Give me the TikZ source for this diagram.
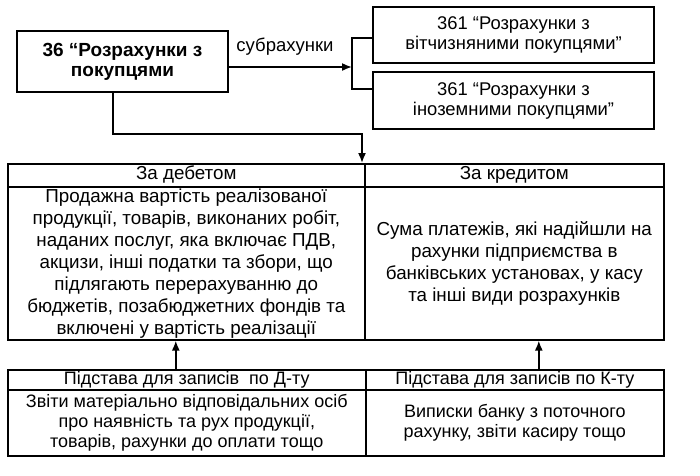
\documentclass[tikz,border=0pt]{standalone}
\usepackage{fontspec}
\setmainfont{Liberation Sans}
\usetikzlibrary{arrows.meta,positioning,calc}
\begin{document}
\begin{tikzpicture}[x=1pt,y=-1pt,
  line width=1.6pt,
  box/.style={draw, rectangle, inner sep=0pt, align=center},
  cell/.style={draw, rectangle, inner sep=0pt, anchor=north west, align=center},
  head/.style={cell, text height=13.5pt, text depth=4.5pt},
  arr/.style={-{Latex[length=10pt,width=8pt]}},
  tf/.style={font=\fontsize{18.8}{22}\selectfont},
  bf/.style={font=\fontsize{18}{20}\selectfont},
]
\useasboundingbox (0,0) rectangle (700,475);
% top boxes
\node[box, minimum width=211pt, minimum height=61pt, font=\fontsize{19}{20}\selectfont\bfseries] (b36) at (122.5,61.5) {36 “Розрахунки з\\покупцями};
\node[font=\fontsize{18.5}{20}\selectfont] (sub) at (285,47) {субрахунки};
\node[box, minimum width=281pt, minimum height=56pt, font=\fontsize{18.4}{20}\selectfont] (b361a) at (513.5,35) {361 “Розрахунки з\\вітчизняними покупцями”};
\node[box, minimum width=281pt, minimum height=57pt, font=\fontsize{18.4}{20}\selectfont] (b361b) at (513.5,100.5) {361 “Розрахунки з\\іноземними покупцями”};
\coordinate (brk) at (352,67);
\draw[arr] ([yshift=-5.5pt]b36.east) -- (brk);
\draw ([yshift=-3pt]b361a.west) -| (brk) |- ([yshift=11.5pt]b361b.west);
% upper table
\node[head, minimum width=357pt, minimum height=23pt, tf] (dh) at (7,163) {За дебетом};
\node[head, minimum width=299pt, minimum height=23pt, tf] (ch) at (364,163) {За кредитом};
\node[cell, minimum width=357pt, minimum height=153pt, tf] (db) at (7,186) {Продажна вартість реалізованої\\продукції, товарів, виконаних робіт,\\наданих послуг, яка включає ПДВ,\\акцизи, інші податки та збори, що\\підлягають перерахуванню до\\бюджетів, позабюджетних фондів та\\включені у вартість реалізації};
\node[cell, minimum width=299pt, minimum height=153pt, tf] (cb) at (364,186) {Сума платежів, які надійшли на\\рахунки підприємства в\\банківських установах, у касу\\та інші види розрахунків};
\coordinate (t1) at (362,134);
\draw[arr] ([xshift=-9.5pt]b36.south) |- (t1) -- (t1 |- dh.north);
% lower table
\node[head, minimum width=358pt, minimum height=20pt, bf] (bdh) at (7,369) {Підстава для записів \ по Д-ту};
\node[head, minimum width=298pt, minimum height=20pt, bf] (bch) at (365,369) {Підстава для записів по К-ту};
\node[cell, minimum width=358pt, minimum height=66pt, bf] (bdb) at (7,389) {Звіти матеріально відповідальних осіб\\про наявність та рух продукції,\\товарів, рахунки до оплати тощо};
\node[cell, minimum width=298pt, minimum height=66pt, bf] (bcb) at (365,389) {Виписки банку з поточного\\рахунку, звіти касиру тощо};
\draw[arr] ([xshift=-10.5pt]db.south |- bdh.north) -- ([xshift=-10.5pt]db.south);
\draw[arr] ([xshift=24.5pt]cb.south |- bch.north) -- ([xshift=24.5pt]cb.south);
\end{tikzpicture}
\end{document}
